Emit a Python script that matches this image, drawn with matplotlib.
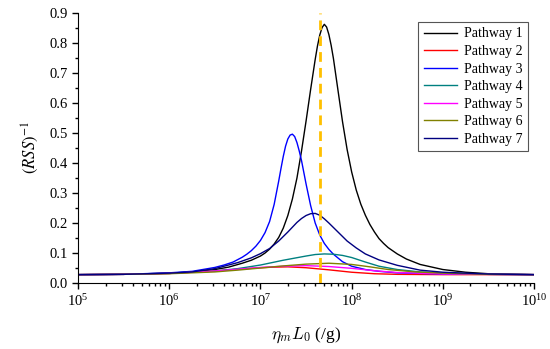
import numpy as np
import matplotlib.pyplot as plt
from matplotlib.ticker import LogLocator, MultipleLocator, LogFormatterMathtext, NullFormatter

plt.rcParams['font.family'] = ['Liberation Serif', 'DejaVu Serif']
plt.rcParams['mathtext.fontset'] = 'stix'

#%% datos (log10 de x, y)
lx_p1 = [5.0, 5.5, 6.0, 6.25, 6.5, 6.65, 6.8, 6.85, 6.9, 6.95, 7.0, 7.05, 7.1, 7.15, 7.2,
         7.25, 7.3, 7.35, 7.4, 7.45, 7.5, 7.55, 7.6, 7.625, 7.65, 7.675, 7.7, 7.725, 7.75,
         7.775, 7.8, 7.85, 7.9, 7.95, 8.0, 8.05, 8.1, 8.15, 8.2, 8.25, 8.3, 8.35, 8.4, 8.5,
         8.6, 8.75, 9.0, 9.25, 9.5, 10.0]
y_p1 = [0.028, 0.029, 0.033, 0.037, 0.045, 0.053, 0.066, 0.071, 0.076, 0.083, 0.09, 0.1,
        0.113, 0.13, 0.152, 0.183, 0.225, 0.28, 0.35, 0.44, 0.54, 0.645, 0.745, 0.79, 0.826,
        0.851, 0.862, 0.853, 0.828, 0.792, 0.748, 0.642, 0.537, 0.445, 0.37, 0.31, 0.263,
        0.226, 0.195, 0.17, 0.148, 0.132, 0.118, 0.097, 0.08, 0.062, 0.045, 0.036, 0.031,
        0.028]

lx_p2 = [5.0, 5.5, 6.0, 6.5, 6.75, 7.0, 7.15, 7.3, 7.5, 7.75, 8.0, 8.25, 8.5, 9.0, 10.0]
y_p2 = [0.028, 0.029, 0.032, 0.04, 0.046, 0.051, 0.053, 0.054, 0.051, 0.044, 0.036,
        0.031, 0.029, 0.028, 0.028]

lx_p3 = [5.0, 5.5, 6.0, 6.25, 6.5, 6.6, 6.7, 6.8, 6.85, 6.9, 6.95, 7.0, 7.05, 7.1, 7.15,
         7.2, 7.225, 7.25, 7.275, 7.3, 7.325, 7.35, 7.375, 7.4, 7.425, 7.45, 7.5, 7.55,
         7.6, 7.65, 7.7, 7.75, 7.8, 7.9, 8.0, 8.15, 8.3, 8.5, 9.0, 10.0]
y_p3 = [0.028, 0.029, 0.034, 0.039, 0.052, 0.06, 0.07, 0.086, 0.096, 0.108, 0.123, 0.142,
        0.168, 0.205, 0.262, 0.34, 0.382, 0.422, 0.456, 0.48, 0.493, 0.496, 0.488, 0.468,
        0.44, 0.408, 0.33, 0.258, 0.2, 0.16, 0.132, 0.112, 0.096, 0.071, 0.056, 0.045,
        0.039, 0.034, 0.03, 0.028]

lx_p4 = [5.0, 5.5, 6.0, 6.5, 6.75, 7.0, 7.25, 7.5, 7.6, 7.7, 7.8, 7.9, 8.0, 8.15, 8.3,
         8.5, 8.75, 9.0, 9.5, 10.0]
y_p4 = [0.028, 0.029, 0.032, 0.04, 0.048, 0.06, 0.076, 0.09, 0.095, 0.097, 0.096, 0.092,
        0.085, 0.07, 0.056, 0.045, 0.037, 0.033, 0.029, 0.028]

lx_p5 = [5.0, 5.5, 6.0, 6.5, 6.75, 7.0, 7.25, 7.5, 7.75, 8.0, 8.25, 8.5, 9.0, 10.0]
y_p5 = [0.028, 0.029, 0.032, 0.04, 0.046, 0.052, 0.056, 0.058, 0.055, 0.049, 0.041,
        0.035, 0.03, 0.028]

lx_p6 = [5.0, 5.5, 6.0, 6.5, 6.75, 7.0, 7.25, 7.5, 7.75, 8.0, 8.2, 8.4, 8.7, 9.0, 9.5, 10.0]
y_p6 = [0.028, 0.029, 0.031, 0.037, 0.043, 0.05, 0.057, 0.063, 0.066, 0.062, 0.054, 0.045,
        0.037, 0.033, 0.029, 0.028]

lx_p7 = [5.0, 5.5, 6.0, 6.25, 6.5, 6.75, 6.9, 7.0, 7.1, 7.2, 7.3, 7.4, 7.45, 7.5, 7.55,
         7.6, 7.65, 7.7, 7.75, 7.85, 7.95, 8.05, 8.15, 8.3, 8.5, 8.75, 9.0, 9.5, 10.0]
y_p7 = [0.028, 0.029, 0.033, 0.037, 0.048, 0.068, 0.084, 0.098, 0.115, 0.14, 0.17, 0.202,
        0.215, 0.225, 0.231, 0.232, 0.226, 0.214, 0.2, 0.17, 0.14, 0.117, 0.097, 0.077,
        0.059, 0.043, 0.036, 0.03, 0.028]

x_linea = 4.5e7

series = [('Pathway 1', lx_p1, y_p1, 'black'),
          ('Pathway 2', lx_p2, y_p2, '#ff0000'),
          ('Pathway 3', lx_p3, y_p3, '#0000ff'),
          ('Pathway 4', lx_p4, y_p4, '#008080'),
          ('Pathway 5', lx_p5, y_p5, '#ff00ff'),
          ('Pathway 6', lx_p6, y_p6, '#808000'),
          ('Pathway 7', lx_p7, y_p7, '#000080')]

#%%
fig = plt.figure(figsize=(5.5, 3.49), dpi=100)
ax = fig.add_axes([0.142, 0.189, 0.829, 0.774])

for nombre, lx, y, c in series:
    ax.plot(10 ** np.array(lx), y, color=c, lw=1.0, label=nombre)

ax.axvline(x_linea, color='#ffc000', lw=2.0, ls=(0, (3.5, 2.2)))

ax.set_xscale('log')
ax.set_xlim(1e5, 1e10)
ax.set_ylim(0, 0.9)
ax.xaxis.set_major_locator(LogLocator(base=10, numticks=10))
ax.xaxis.set_minor_locator(LogLocator(base=10, subs=np.arange(2, 10), numticks=20))
ax.xaxis.set_major_formatter(LogFormatterMathtext())
ax.xaxis.set_minor_formatter(NullFormatter())
ax.yaxis.set_major_locator(MultipleLocator(0.1))
ax.yaxis.set_minor_locator(MultipleLocator(0.05))
ax.yaxis.set_major_formatter(plt.FuncFormatter(lambda v, p: '%.1f' % v))

ax.spines['top'].set_visible(False)
ax.spines['right'].set_visible(False)
ax.tick_params(which='both', direction='out', labelsize=10.5, width=1.0)
ax.tick_params(which='major', length=4)
ax.tick_params(which='minor', length=2.5)

ax.set_ylabel(r'$(RSS)^{-1}$', fontsize=12, labelpad=6)
ax.set_xlabel(r'$\eta_m L_0$ (/g)', fontsize=12.5, labelpad=12, math_fontfamily='cm')

leg = ax.legend(loc='upper right', bbox_to_anchor=(0.987, 0.967), borderaxespad=0,
                fontsize=10, fancybox=False, edgecolor='#555555', framealpha=1,
                handlelength=2.4, labelspacing=0.33, borderpad=0.4, handletextpad=0.5)
leg.get_frame().set_linewidth(0.8)

fig.savefig('out.png', dpi=100)
